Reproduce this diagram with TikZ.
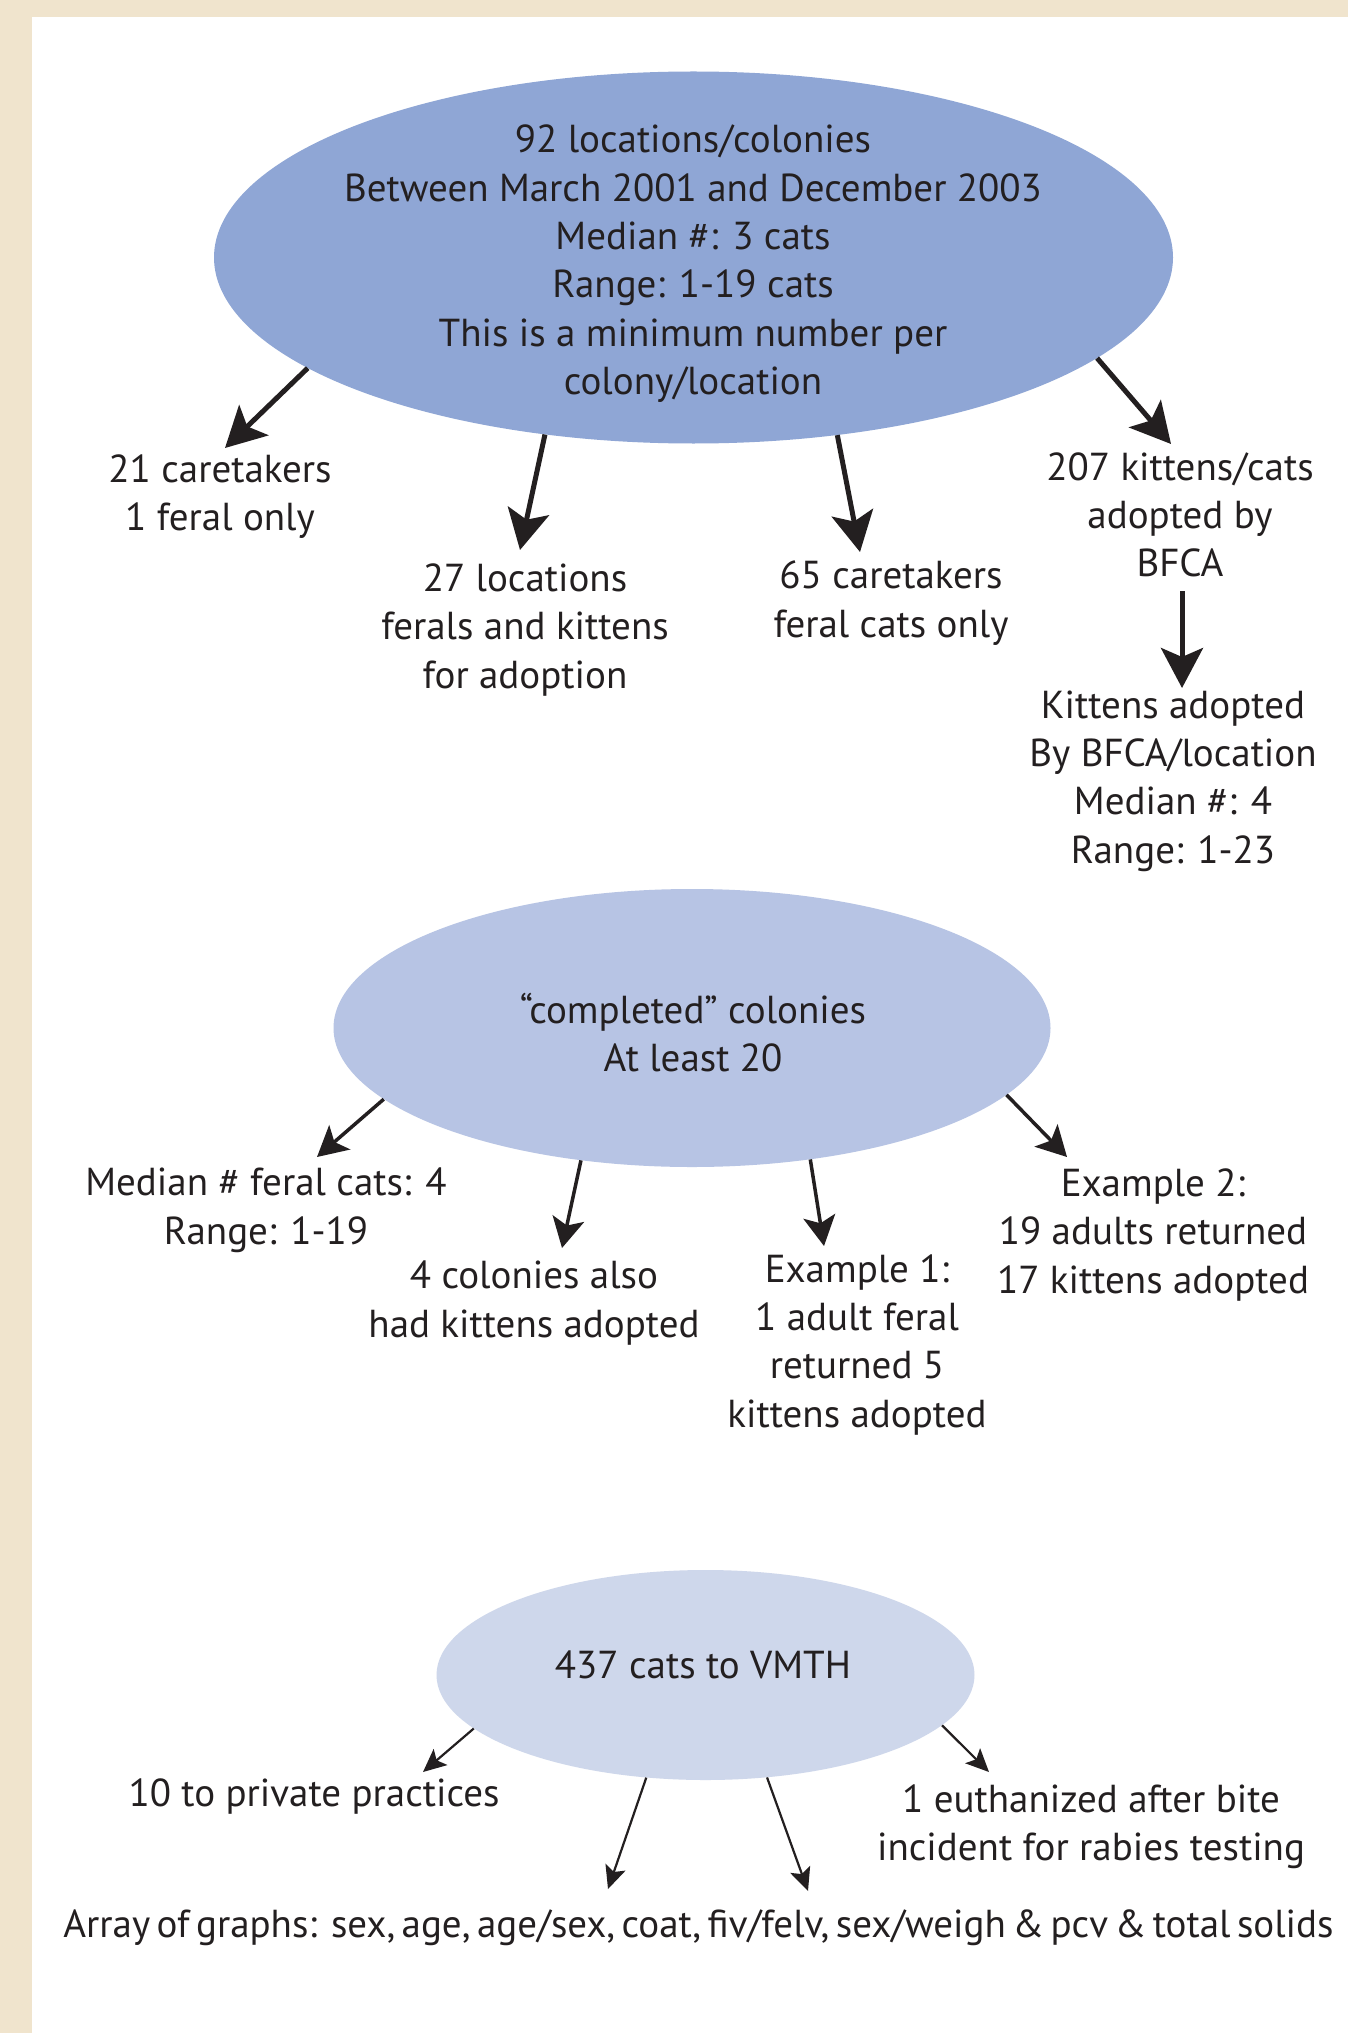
\documentclass[tikz,border=0pt]{standalone}
\usepackage{fontspec}
\setmainfont{PT Sans}
\usetikzlibrary{shapes.geometric,arrows.meta}
\definecolor{beige}{RGB}{240,228,205}
\definecolor{eone}{RGB}{143,166,213}
\definecolor{etwo}{RGB}{183,196,228}
\definecolor{ethree}{RGB}{206,215,235}
\definecolor{ink}{RGB}{35,31,32}
\begin{document}
\begin{tikzpicture}[x=1pt,y=-1pt,
  lbl/.style={align=center, anchor=base, inner sep=0pt, text=ink, font=\fontsize{39}{48.3}\selectfont},
  oval/.style={ellipse, draw=none, inner sep=0pt},
  arrA/.style={draw=ink, line width=5pt, -{Stealth[length=40pt,width=42pt,inset=9pt]}},
  arrB/.style={draw=ink, line width=3.5pt, -{Stealth[length=30pt,width=32pt,inset=7pt]}},
  arrC/.style={draw=ink, line width=2.2pt, -{Stealth[length=23pt,width=21pt,inset=5pt]}}
]
\useasboundingbox (0,0) rectangle (1348,2033);
\fill[beige] (0,0) rectangle (1348,2033);
\fill[white] (32,17) rectangle (1348,2033);

% ellipses
\node[oval, fill=eone, minimum width=959pt, minimum height=372pt] (e1) at (693.5,257.5) {};
\node[oval, fill=etwo, minimum width=717pt, minimum height=278pt] (e2) at (692,1028) {};
\node[oval, fill=ethree, minimum width=538pt, minimum height=210pt] (e3) at (705.5,1675) {};

% texts level 1 (anchored at the baseline of the last line)
\node[lbl] (n0) at (693,394.5) {92 locations/colonies\\Between March 2001 and December 2003\\Median \#: 3 cats\\Range: 1-19 cats\\This is a minimum number per\\colony/location};
\node[lbl] (n1) at (220,530.6) {21 caretakers\\1 feral only};
\node[lbl] (n2) at (525,688) {27 locations\\ferals and kittens\\for adoption};
\node[lbl] (n3) at (891,637) {65 caretakers\\feral cats only};
\node[lbl] (n4) at (1180,576.7) {207 kittens/cats\\adopted by\\BFCA};
\node[lbl] (n5) at (1173,863) {Kittens adopted\\By BFCA/location\\Median \#: 4\\Range: 1-23};

% texts level 2
\node[lbl] (m0) at (693,1071.7) {“completed” colonies\\At least 20};
\node[lbl] (m1) at (266,1244) {Median \# feral cats: 4\\Range: 1-19};
\node[lbl] (m2) at (534,1337) {4 colonies also\\had kittens adopted};
\node[lbl] (m3) at (857,1427) {Example 1:\\1 adult feral\\returned 5\\kittens adopted};
\node[lbl] (m4) at (1153,1293) {Example 2:\\19 adults returned\\17 kittens adopted};

% texts level 3
\node[lbl] (p0) at (703,1678.6) {437 cats to VMTH};
\node[lbl] (p1) at (314,1806) {10 to private practices};
\node[lbl] (p2) at (1091,1860.5) {1 euthanized after bite\\incident for rabies testing};
\node[lbl] (p3) at (698.5,1937) {\spaceskip=6.5pt\relax Array of graphs:\hspace{14pt}sex, age, age/sex, coat, fiv/felv, sex/weigh \& pcv \& total solids};

% arrow tips
\coordinate (ta1) at (225,448);
\coordinate (ta2) at (520,550);
\coordinate (ta3) at (860,552);
\coordinate (ta4) at (1171,444);
\coordinate (ka) at (1182,591);
\coordinate (kb) at (1182,688);
\coordinate (tb1) at (317,1157);
\coordinate (tb2) at (562,1248);
\coordinate (tb3) at (824,1246);
\coordinate (tb4) at (1067,1157);
\coordinate (tc1) at (423,1772);
\coordinate (tc2) at (608,1889);
\coordinate (tc3) at (808,1891);
\coordinate (tc4) at (989,1772);

\draw[arrA] (e1.-164) -- (ta1);
\draw[arrA] (e1.-130.6) -- (ta2);
\draw[arrA] (e1.-51.4) -- (ta3);
\draw[arrA] (e1.-14.8) -- (ta4);
\draw[arrA] (ka) -- (kb);

\draw[arrB] (e2.-167.5) -- (tb1);
\draw[arrB] (e2.-130.6) -- (tb2);
\draw[arrB] (e2.-48.7) -- (tb3);
\draw[arrB] (e2.-12.5) -- (tb4);

\draw[arrC] (e3.-167.8) -- (tc1);
\draw[arrC] (e3.-120.2) -- (tc2);
\draw[arrC] (e3.-59.5) -- (tc3);
\draw[arrC] (e3.-12.2) -- (tc4);
\end{tikzpicture}
\end{document}
